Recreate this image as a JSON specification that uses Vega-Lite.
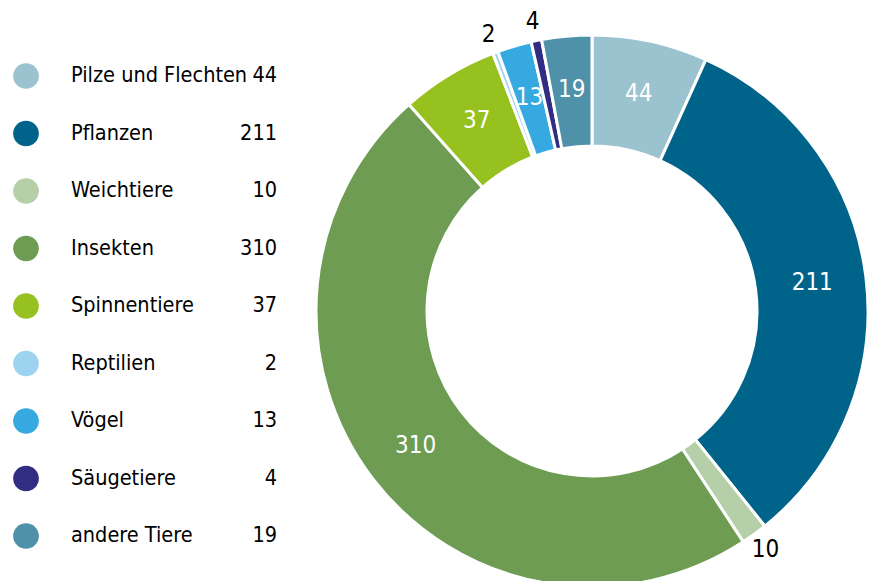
{
  "$schema": "https://vega.github.io/schema/vega-lite/v6.json",
  "padding": 0,
  "bounds": "flush",
  "spacing": 260,
  "background": "white",
  "config": {"view": {"stroke": null}, "font": "DejaVu Sans Condensed, Roboto, sans-serif"},
  "data": {"values": [
    {"category": "Pilze und Flechten", "value": 44, "order": 1, "inLabel": "44", "outLabel": ""},
    {"category": "Pflanzen", "value": 211, "order": 2, "inLabel": "211", "outLabel": ""},
    {"category": "Weichtiere", "value": 10, "order": 3, "inLabel": "", "outLabel": "10"},
    {"category": "Insekten", "value": 310, "order": 4, "inLabel": "310", "outLabel": ""},
    {"category": "Spinnentiere", "value": 37, "order": 5, "inLabel": "37", "outLabel": ""},
    {"category": "Reptilien", "value": 2, "order": 6, "inLabel": "", "outLabel": "2"},
    {"category": "Vögel", "value": 13, "order": 7, "inLabel": "13", "outLabel": ""},
    {"category": "Säugetiere", "value": 4, "order": 8, "inLabel": "", "outLabel": "4"},
    {"category": "andere Tiere", "value": 19, "order": 9, "inLabel": "19", "outLabel": ""}
  ]},
  "hconcat": [
    {
      "width": 52,
      "height": 622,
      "encoding": {
        "y": {"field": "category", "type": "nominal", "sort": {"field": "order", "op": "min"},
              "scale": {"type": "point", "padding": 0, "range": [76, 536]}, "axis": null}
      },
      "layer": [
        {"mark": {"type": "point", "filled": true, "size": 660, "opacity": 1},
         "encoding": {"color": {"field": "category", "type": "nominal", "legend": null,
           "scale": {"domain": ["Pilze und Flechten", "Pflanzen", "Weichtiere", "Insekten", "Spinnentiere", "Reptilien", "Vögel", "Säugetiere", "andere Tiere"],
                     "range": ["#9AC2CF", "#00648A", "#B5CFA8", "#6D9C52", "#97C11F", "#9DD3EF", "#36A9E1", "#312D82", "#4E91A8"]}}}},
        {"mark": {"type": "text", "align": "left", "baseline": "middle", "dx": 45, "fontSize": 21.5, "color": "#000000"},
         "encoding": {"text": {"field": "category", "type": "nominal"}}},
        {"mark": {"type": "text", "align": "right", "baseline": "middle", "dx": 251, "fontSize": 21.5, "color": "#000000"},
         "encoding": {"text": {"field": "value", "type": "quantitative"}}}
      ]
    },
    {
      "width": 560,
      "height": 622,
      "encoding": {
        "theta": {"field": "value", "type": "quantitative", "stack": true},
        "order": {"field": "order", "type": "quantitative"}
      },
      "layer": [
        {"mark": {"type": "arc", "innerRadius": 165, "outerRadius": 276, "stroke": "white", "strokeWidth": 3},
         "encoding": {"color": {"field": "category", "type": "nominal", "legend": null,
           "scale": {"domain": ["Pilze und Flechten", "Pflanzen", "Weichtiere", "Insekten", "Spinnentiere", "Reptilien", "Vögel", "Säugetiere", "andere Tiere"],
                     "range": ["#9AC2CF", "#00648A", "#B5CFA8", "#6D9C52", "#97C11F", "#9DD3EF", "#36A9E1", "#312D82", "#4E91A8"]}}}},
        {"mark": {"type": "text", "radius": 222, "fontSize": 24, "color": "white", "baseline": "middle"},
         "encoding": {"text": {"field": "inLabel", "type": "nominal"}}},
        {"mark": {"type": "text", "radius": 295, "fontSize": 24, "color": "#000000", "baseline": "middle"},
         "encoding": {"text": {"field": "outLabel", "type": "nominal"}}}
      ]
    }
  ]
}
